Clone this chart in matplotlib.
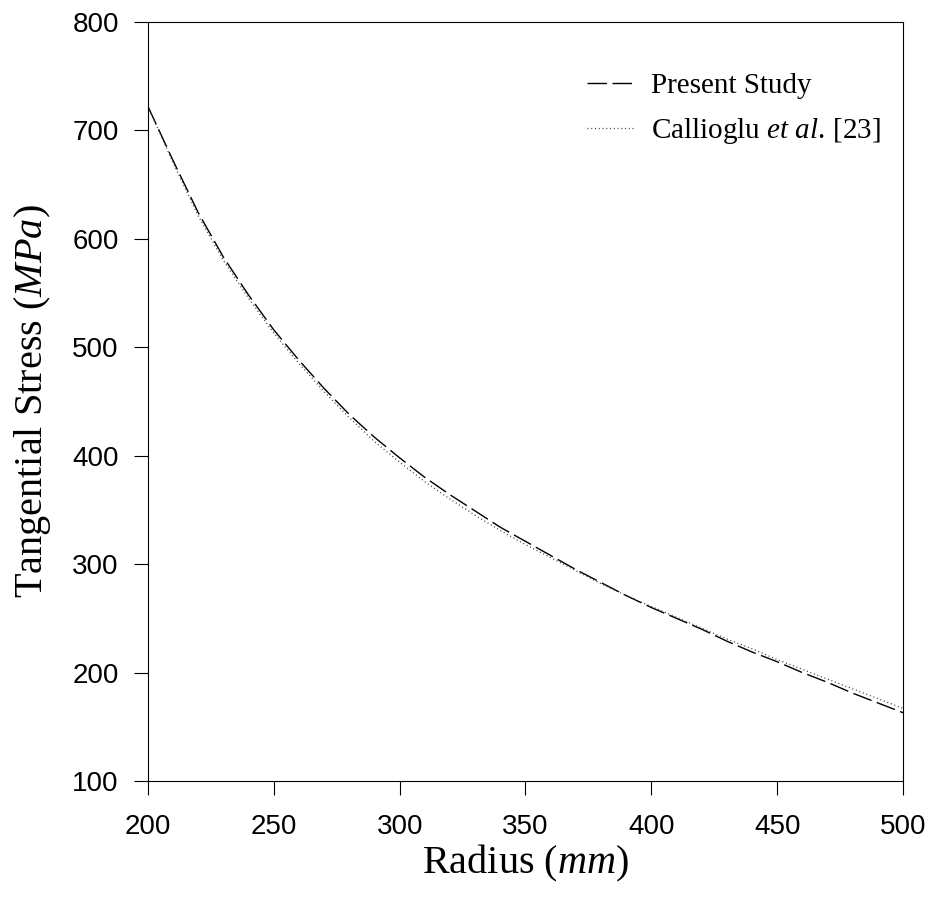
import matplotlib
matplotlib.use("Agg")
import matplotlib.pyplot as plt
from matplotlib import rcParams

# 字型：刻度用 Arial 類，標籤用 Times 類
rcParams['font.family'] = ['Liberation Sans', 'DejaVu Sans']
rcParams['mathtext.fontset'] = 'custom'
rcParams['mathtext.rm'] = 'Liberation Serif'
rcParams['mathtext.it'] = 'Liberation Serif:italic'

radius = [200, 210, 220, 230, 240, 250, 260, 270, 280, 290, 300,
          310, 320, 330, 340, 350, 360, 370, 380, 390, 400,
          410, 420, 430, 440, 450, 460, 470, 480, 490, 500]

present_study = [722, 672, 624, 583, 548, 516, 488, 462, 438, 417, 398,
                 380, 364, 349, 334, 321, 308, 295, 283, 271, 260,
                 250, 240, 229, 219, 210, 200, 191, 181, 172, 163]

callioglu = [722, 670, 621, 580, 545, 513, 485, 459, 435, 413, 394,
             376, 360, 345, 331, 318, 306, 294, 282, 271, 261,
             251, 241, 231, 222, 212, 203, 194, 185, 176, 167]

xticks = [200, 250, 300, 350, 400, 450, 500]
yticks = [100, 200, 300, 400, 500, 600, 700, 800]

fig = plt.figure(figsize=(9.29, 9.01), dpi=100)
ax = fig.add_axes([148 / 929, 1 - 781 / 901, 755 / 929, 759 / 901])

ax.plot(radius, present_study, color='black', lw=1.0, linestyle=(0, (14, 4)),
        label='Present Study')
ax.plot(radius, callioglu, color='#333333', lw=0.9, linestyle=(0, (0.8, 2.2)),
        label=r'Callioglu $\it{et\ al.}\,$[23]')

ax.set_xlim(200, 500)
ax.set_ylim(100, 800)
ax.set_xticks(xticks)
ax.set_yticks(yticks)
ax.tick_params(direction='out', length=10, width=0.8, labelsize=20,
               top=False, right=False)
ax.tick_params(axis='x', pad=14)
ax.tick_params(axis='y', pad=11)
for sp in ax.spines.values():
    sp.set_linewidth(0.8)

ax.set_xlabel(r'Radius ($\it{mm}$)', fontsize=29, family='Liberation Serif', labelpad=2)
ax.set_ylabel(r'Tangential Stress ($\it{MPa}$)', fontsize=29, family='Liberation Serif', labelpad=14)

leg = ax.legend(loc='upper right', bbox_to_anchor=(1.005, 0.968), frameon=False,
                handlelength=1.6, handletextpad=0.6, labelspacing=0.6,
                prop={'family': 'Liberation Serif', 'size': 21})

fig.savefig('out.png', dpi=100)
plt.close(fig)
